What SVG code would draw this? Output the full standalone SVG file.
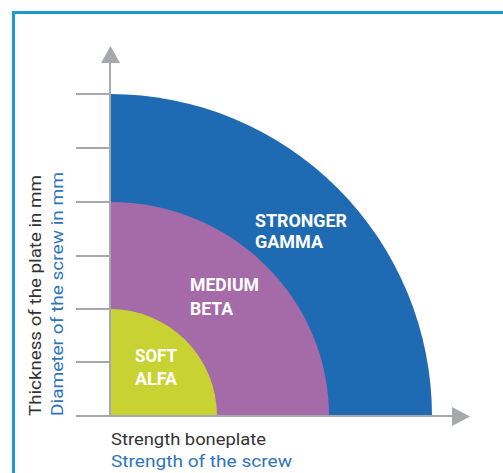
<svg xmlns="http://www.w3.org/2000/svg" width="503" height="473" viewBox="0 0 503 473">
<style>
.axis{stroke:#a7a8ab;stroke-width:2;fill:none}
.head{fill:#a7a8ab}
.lbl{font-family:Roboto,"Liberation Sans",sans-serif;font-weight:bold;font-size:18px;fill:#ffffff}
.ax{font-family:Roboto,"Liberation Sans",sans-serif;font-size:17px}
.dark{fill:#333333}
.blue{fill:#2f75bb}
</style>
<rect x="13.5" y="12.5" width="500" height="470" fill="#ffffff" stroke="#1a9ad6" stroke-width="3"/>
<g id="gamma">
<path d="M110,416 L110,94 A322,322 0 0 1 432,416 Z" fill="#1f6bb3"/>
<text class="lbl" x="255" y="227" textLength="92" lengthAdjust="spacingAndGlyphs">STRONGER</text>
<text class="lbl" x="255" y="248" textLength="68" lengthAdjust="spacingAndGlyphs">GAMMA</text>
</g>
<g id="beta">
<path d="M110,416 L110,202 A219,214 0 0 1 329,416 Z" fill="#a56ba9"/>
<text class="lbl" x="190" y="291" textLength="69" lengthAdjust="spacingAndGlyphs">MEDIUM</text>
<text class="lbl" x="190" y="315" textLength="43" lengthAdjust="spacingAndGlyphs">BETA</text>
</g>
<g id="alfa">
<path d="M110,416 L110,309 A107,107 0 0 1 217,416 Z" fill="#c8d232"/>
<text class="lbl" x="135" y="362" textLength="42" lengthAdjust="spacingAndGlyphs">SOFT</text>
<text class="lbl" x="135" y="385" textLength="42" lengthAdjust="spacingAndGlyphs">ALFA</text>
</g>
<g id="axes">
<line class="axis" x1="110" y1="62" x2="110" y2="417"/>
<line class="axis" x1="76" y1="416" x2="453" y2="416"/>
<line class="axis" x1="76" y1="94" x2="110" y2="94"/>
<line class="axis" x1="76" y1="148" x2="110" y2="148"/>
<line class="axis" x1="76" y1="202" x2="110" y2="202"/>
<line class="axis" x1="76" y1="256" x2="110" y2="256"/>
<line class="axis" x1="76" y1="309" x2="110" y2="309"/>
<line class="axis" x1="76" y1="362" x2="110" y2="362"/>
<polygon class="head" points="101,63 120,63 110.5,46"/>
<polygon class="head" points="452,407 452,426 470,416.5"/>
</g>
<g id="y-label">
<text class="ax dark" transform="translate(41,416) rotate(-90)" textLength="241" lengthAdjust="spacingAndGlyphs">Thickness of the plate in mm</text>
<text class="ax blue" transform="translate(63,416) rotate(-90)" textLength="244" lengthAdjust="spacingAndGlyphs">Diameter of the screw in mm</text>
</g>
<g id="x-label">
<text class="ax dark" x="111" y="445" textLength="155" lengthAdjust="spacingAndGlyphs">Strength boneplate</text>
<text class="ax blue" x="111" y="467" textLength="181" lengthAdjust="spacingAndGlyphs">Strength of the screw</text>
</g>
</svg>
